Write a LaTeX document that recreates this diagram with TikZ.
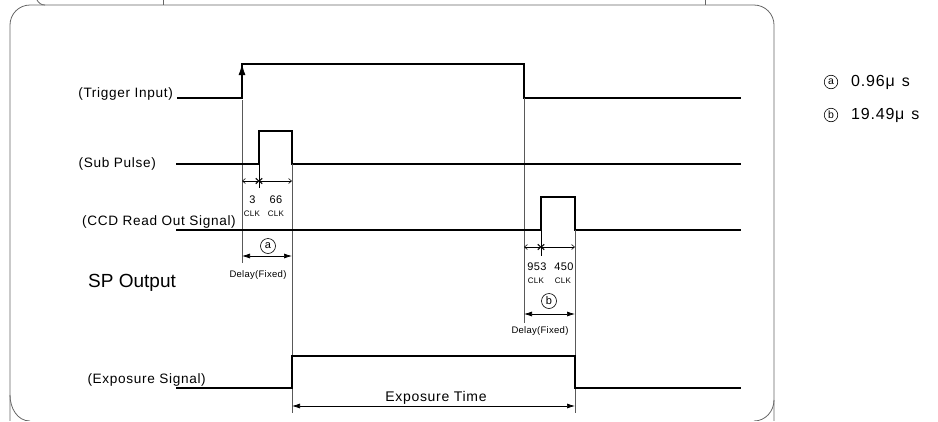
\documentclass[tikz,border=0pt]{standalone}
\usepackage{fontspec}
\setmainfont{Liberation Sans}
\newfontfamily\labfont[LetterSpace=5]{Liberation Sans}
\newfontfamily\smfont[LetterSpace=3]{Liberation Sans}
\newfontfamily\legfont[LetterSpace=5]{Liberation Sans}
\usetikzlibrary{arrows.meta}
\begin{document}
\begin{tikzpicture}[x=1pt,y=-1pt,
  sig/.style={black,line width=1.1pt},
  guide/.style={black!65,line width=0.7pt},
  frame/.style={black!60,line width=0.8pt},
  dimf/.style={black,line width=0.7pt,{Latex[length=8pt,width=5pt]}-{Latex[length=8pt,width=5pt]}},
  dimo/.style={black,line width=0.6pt,{Straight Barb[length=3pt,width=5pt]}-{Straight Barb[length=3pt,width=5pt]}},
  lbl/.style={font=\labfont\fontsize{13.6}{15}\selectfont,anchor=base east,inner sep=0pt},
  clk/.style={font=\smfont\fontsize{8}{9}\selectfont,inner sep=0pt},
  num/.style={font=\smfont\fontsize{11}{12}\selectfont,inner sep=0pt},
  dly/.style={font=\smfont\fontsize{9.5}{11}\selectfont,inner sep=0pt,anchor=base},
  circ/.style={circle,draw,line width=0.6pt,inner sep=0pt,minimum size=15pt,font=\fontsize{11}{12}\selectfont},
  lcirc/.style={circle,draw,line width=0.6pt,inner sep=0pt,minimum size=13.5pt,font=\fontsize{10.5}{12}\selectfont},
  leg/.style={font=\legfont\fontsize{16}{18}\selectfont,anchor=west,inner sep=0pt}]
\useasboundingbox (0,0) rectangle (938,421);
% partial box above
\draw[frame] (37,0) to[out=-60,in=180] (45,5);
\draw[frame] (163,0) -- (163,5);
\draw[frame] (705,0) -- (705,5);
% main frame
\draw[frame,rounded corners=20pt] (10,440) -- (10,5) -- (774,5) -- (774,440);
\draw[frame] (10,395) to[out=-90,in=180] (30,421);
\draw[frame] (774,400) to[out=-90,in=0] (754,421);
\fill[white] (0,421) rectangle (938,445);
% labels
\node[lbl] (ltrig) at (173,97) {(Trigger Input)};
\node[lbl] (lsub) at (156,167) {(Sub Pulse)};
\node[lbl] (lccd) at (236,225) {(CCD Read Out Signal)};
\node[lbl] (lexp) at (206,383) {(Exposure Signal)};
\node[font=\fontsize{19}{21}\selectfont,anchor=base west,inner sep=0pt] (lsp) at (88,287) {SP Output};
% coordinates
\coordinate (t0) at (177,98); \coordinate (t1) at (242,98); \coordinate (t2) at (242,64);
\coordinate (t3) at (524,64); \coordinate (t4) at (524,98); \coordinate (t5) at (741,98);
% trigger
\draw[sig] (t0) -- (t1) -- (242,64) -- (t3) -- (t4) -- (t5);
\draw[guide] (242,100) -- (242,263);
\draw[black,line width=0.8pt,-{Latex[length=11pt,width=7pt]}] (242,90) -- (t2);
\draw[guide] (524,98) -- (524,323);
% sub pulse
\coordinate (s0) at (176,164); \coordinate (s5) at (741,164);
\draw[sig] (s0) -- (259,164) -- (259,131) -- (292,131) -- (292,164) -- (s5);
\draw[guide] (292,164) -- (292,413);
% ccd
\coordinate (c0) at (176,230); \coordinate (c5) at (741,230);
\draw[sig] (c0) -- (541,230) -- (541,197) -- (575,197) -- (575,230) -- (c5);
\draw[guide] (575,230) -- (575,413);
% exposure
\coordinate (e0) at (176,388); \coordinate (e5) at (741,388);
\draw[sig] (e0) -- (292,388) -- (292,356) -- (575,356) -- (575,388) -- (e5);
% dim a
\coordinate (da0) at (242,181); \coordinate (da1) at (259,181); \coordinate (da2) at (292,181);
\draw[dimo] (da0) -- (da1); \draw[dimo] (da1) -- (da2);
\draw[black,line width=0.6pt] (259,164) -- (259,188);
\draw[black,line width=0.6pt] (256,178) -- (262,184) (256,184) -- (262,178);
\node[num] (n3) at (252.5,200) {3};
\node[num] (n66) at (276,200) {66};
\node[clk] (k1) at (252,213.5) {CLK};
\node[clk] (k2) at (276,213.5) {CLK};
\node[circ] (ca) at (268,246) {a};
\coordinate (fa0) at (242,256); \coordinate (fa1) at (292,256);
\draw[dimf] (fa0) -- (fa1);
\node[dly] (dla) at (258,277) {Delay(Fixed)};
% dim b
\coordinate (db0) at (524,247); \coordinate (db1) at (541,247); \coordinate (db2) at (575,247);
\draw[dimo] (db0) -- (db1); \draw[dimo] (db1) -- (db2);
\draw[black,line width=0.6pt] (541,230) -- (541,256);
\draw[black,line width=0.6pt] (538,244) -- (544,250) (538,250) -- (544,244);
\node[num] (n953) at (537,267) {953};
\node[num] (n450) at (564,267) {450};
\node[clk] (k3) at (536,280.5) {CLK};
\node[clk] (k4) at (563,280.5) {CLK};
\node[circ] (cb) at (549,301) {b};
\coordinate (fb0) at (524,314); \coordinate (fb1) at (575,314);
\draw[dimf] (fb0) -- (fb1);
\node[dly] (dlb) at (540,333) {Delay(Fixed)};
% exposure time
\coordinate (x0) at (292,406); \coordinate (x1) at (575,406);
\draw[dimf] (x0) -- (x1);
\node[font=\labfont\fontsize{14}{16}\selectfont,inner sep=0pt,anchor=base] (lxt) at (436,401) {Exposure Time};
% legend
\node[lcirc] (la) at (831,82) {a};
\node[leg] (lta) at (851,82) {0.96μ\hspace{7pt}s};
\node[lcirc] (lb) at (831,115) {b};
\node[leg] (ltb) at (851,115) {19.49μ\hspace{7pt}s};
\end{tikzpicture}
\end{document}
